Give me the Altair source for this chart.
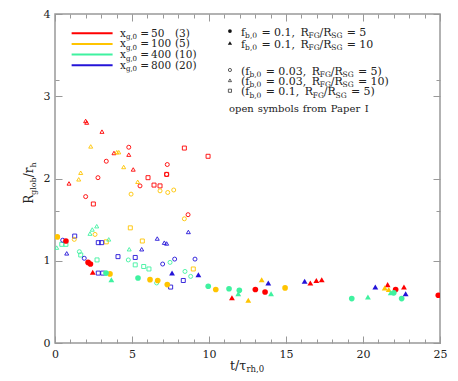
import altair as alt
import pandas as pd

RED, ORANGE, GREEN, BLUE = "#ff0000", "#ffc400", "#3ff2a0", "#2414d8"

# ---------------- data ----------------
# filled circles: f_b,0 = 0.1, R_FG/R_SG = 5
fc_red_x = [0.71, 2.15, 2.30, 13.01, 13.64, 22.12, 24.89]
fc_red_y = [1.24, 0.98, 0.96, 0.65, 0.62, 0.65, 0.58]
fc_orange_x = [0.15, 3.57, 6.17, 6.67, 7.29, 10.44, 14.94]
fc_orange_y = [1.29, 0.84, 0.77, 0.76, 0.71, 0.65, 0.67]
fc_green_x = [3.31, 5.39, 9.95, 11.30, 11.97, 19.27, 22.00, 22.51]
fc_green_y = [0.85, 0.79, 0.69, 0.66, 0.64, 0.54, 0.61, 0.54]
# filled triangles: f_b,0 = 0.1, R_FG/R_SG = 10
ft_red_x = [2.45, 11.49, 16.58, 16.97, 17.32, 21.60, 22.66]
ft_red_y = [0.86, 0.55, 0.73, 0.76, 0.77, 0.71, 0.68]
ft_orange_x = [12.55, 13.42, 21.41, 21.67]
ft_orange_y = [0.52, 0.77, 0.67, 0.65]
ft_green_x = [3.66, 11.90, 14.03, 20.32, 21.80]
ft_green_y = [0.77, 0.60, 0.60, 0.56, 0.61]
ft_blue_x = [7.60, 9.31, 13.85, 16.21, 20.80, 22.77]
ft_blue_y = [0.85, 0.83, 0.73, 0.75, 0.68, 0.60]
# open circles: f_b,0 = 0.03, R_FG/R_SG = 5 (Paper I)
oc_red_x = [4.79, 3.33, 7.29, 7.25, 2.79, 5.52, 1.99, 8.64]
oc_red_y = [2.38, 2.21, 2.17, 2.05, 2.01, 1.91, 1.78, 1.56]
oc_orange_x = [7.71, 7.32, 6.82, 4.94, 8.40, 2.60, 1.25]
oc_orange_y = [1.86, 1.83, 1.85, 1.81, 1.51, 1.32, 1.26]
oc_green_x = [1.58, 4.76, 6.60, 7.47, 8.44, 8.81]
oc_green_y = [1.11, 1.01, 0.73, 0.98, 0.87, 0.81]
oc_blue_x = [0.50, 1.90, 6.99, 7.77, 9.09]
oc_blue_y = [1.25, 1.03, 0.96, 1.02, 1.02]
# open triangles: f_b,0 = 0.03, R_FG/R_SG = 10 (Paper I)
ot_red_x = [1.99, 2.06, 3.05, 4.79, 3.83, 5.08, 0.91]
ot_red_y = [2.70, 2.68, 2.57, 2.29, 2.31, 2.11, 1.94]
ot_orange_x = [2.32, 4.01, 4.14, 4.46, 1.67, 1.54, 5.37]
ot_orange_y = [2.39, 2.32, 2.32, 2.14, 2.07, 1.99, 1.96]
ot_green_x = [2.71, 2.42, 2.27, 3.49, 4.82, 0.11]
ot_green_y = [1.42, 1.38, 1.33, 1.26, 1.14, 1.16]
ot_blue_x = [6.64, 7.10, 7.25, 8.66, 5.63, 0.76]
ot_blue_y = [1.27, 1.22, 1.21, 1.35, 1.14, 1.09]
# open squares: f_b,0 = 0.1, R_FG/R_SG = 5 (Paper I)
os_red_x = [8.40, 9.94, 6.04, 6.43, 6.82, 2.49, 7.25]
os_red_y = [2.37, 2.27, 2.01, 1.92, 1.91, 1.69, 2.05]
os_orange_x = [4.89, 5.67, 3.33, 8.98]
os_orange_y = [1.40, 1.24, 1.23, 0.90]
os_green_x = [0.44, 0.71, 1.67, 2.73, 5.21, 5.76, 6.10]
os_green_y = [1.20, 1.20, 1.07, 1.01, 0.95, 0.93, 0.90]
os_blue_x = [1.28, 2.81, 3.03, 2.81, 3.10, 4.09, 5.21, 7.51, 8.33]
os_blue_y = [1.30, 1.22, 1.22, 0.85, 0.85, 1.05, 1.04, 0.68, 0.76]

# legend texts
leg_colors = [RED, ORANGE, GREEN, BLUE]
leg_xg = ["50", "100", "400", "800"]
leg_n = ["(3)", "(5)", "(10)", "(20)"]
x_major = [0, 5, 10, 15, 20, 25]
x_minor = list(range(0, 26))
y_major = [0, 1, 2, 3, 4]
y_minor = [round(i * 0.1, 1) for i in range(41)]

# ---------------- layout helpers ----------------
W, H = 385, 329
XMAX, YMAX = 25, 4
PXX, PXY = W / XMAX, H / YMAX
FONT = "DejaVu Serif"

CW = {' ': .318, '=': .838, '(': .390, ')': .390,
      ',': .318, '.': .318, '/': .337, 'x': .564, 'f': .372, 'R': .734, 'F': .683,
      'G': .776, 'S': .685, 'b': .640, 'g': .640, 'h': .644, 'l': .320, 'o': .602,
      'r': .478, 't': .402, '\u03c4': .57, 'p': .640, 'e': .592, 'n': .644,
      's': .514, 'y': .565, 'm': .948, 'a': .596, 'P': .683, 'I': .372}
for d in "0123456789":
    CW[d] = .636


def tw(s, fs):
    return sum(CW.get(c, .6) for c in s) * fs


def place(parts, x0, y0, fn, fsub, sub_dy, rotate=False, center=False):
    """parts: (text, 'n'|'s'|'gap'); gap entries are advances in em of the normal size."""
    def adv(t, k):
        if k == 'gap':
            return float(t) * fn
        return tw(t, fn if k == 'n' else fsub)
    total = sum(adv(t, k) for t, k in parts)
    off = -total / 2 if center else 0.0
    out = []
    for txt, kind in parts:
        if kind != 'gap':
            fs = fn if kind == 'n' else fsub
            dy = 0 if kind == 'n' else sub_dy
            if rotate:
                out.append({"x": x0 + dy / PXX, "y": y0 + off / PXY, "t": txt, "fs": fs})
            else:
                out.append({"x": x0 + off / PXX, "y": y0 - dy / PXY, "t": txt, "fs": fs})
        off += adv(txt, kind)
    return out


# ---------------- data frame for points ----------------
rows = []


def add(kind, color, xs_, ys_, shape, size):
    for a, b in zip(xs_, ys_):
        rows.append({"x": a, "y": b, "kind": kind, "c": color, "shape": shape, "s": size})


for col, xs_, ys_ in [(RED, os_red_x, os_red_y), (ORANGE, os_orange_x, os_orange_y),
                      (GREEN, os_green_x, os_green_y), (BLUE, os_blue_x, os_blue_y)]:
    add("open", col, xs_, ys_, "square", 16)
for col, xs_, ys_ in [(RED, oc_red_x, oc_red_y), (ORANGE, oc_orange_x, oc_orange_y),
                      (GREEN, oc_green_x, oc_green_y), (BLUE, oc_blue_x, oc_blue_y)]:
    add("open", col, xs_, ys_, "circle", 16)
for col, xs_, ys_ in [(RED, ot_red_x, ot_red_y), (ORANGE, ot_orange_x, ot_orange_y),
                      (GREEN, ot_green_x, ot_green_y), (BLUE, ot_blue_x, ot_blue_y)]:
    add("open", col, xs_, ys_, "triangle-up", 16)
for col, xs_, ys_ in [(RED, fc_red_x, fc_red_y), (ORANGE, fc_orange_x, fc_orange_y),
                      (GREEN, fc_green_x, fc_green_y)]:
    add("filled", col, xs_, ys_, "circle", 32)
for col, xs_, ys_ in [(RED, ft_red_x, ft_red_y), (ORANGE, ft_orange_x, ft_orange_y),
                      (GREEN, ft_green_x, ft_green_y), (BLUE, ft_blue_x, ft_blue_y)]:
    add("filled", col, xs_, ys_, "triangle-up", 34)

pts = pd.DataFrame(rows)
open_pts = pts[pts.kind == "open"]
filled_pts = pts[pts.kind == "filled"]

xs = alt.Scale(domain=[0, XMAX], nice=False, zero=False)
ys = alt.Scale(domain=[0, YMAX], nice=False, zero=False)


def enc(chart, xaxis=None, yaxis=None):
    return chart.encode(
        x=alt.X("x:Q", scale=xs, axis=xaxis),
        y=alt.Y("y:Q", scale=ys, axis=yaxis),
    )


open_layer = enc(alt.Chart(open_pts).mark_point(filled=False, strokeWidth=0.9, opacity=1, clip=True)).encode(
    color=alt.Color("c:N", scale=None),
    shape=alt.Shape("shape:N", scale=None),
    size=alt.Size("s:Q", scale=None),
)
filled_layer = enc(alt.Chart(filled_pts).mark_point(filled=True, opacity=1, clip=True)).encode(
    color=alt.Color("c:N", scale=None),
    shape=alt.Shape("shape:N", scale=None),
    size=alt.Size("s:Q", scale=None),
)

# ---------------- legend (annotation) ----------------
line_y = [3.765, 3.636, 3.507, 3.378]
leg_lines = pd.DataFrame({"x": [1.08] * 4, "x2": [3.74] * 4, "y": line_y, "c": leg_colors})
lines_layer = alt.Chart(leg_lines).mark_rule(strokeWidth=2).encode(
    x=alt.X("x:Q", scale=xs, axis=None), x2="x2:Q",
    y=alt.Y("y:Q", scale=ys, axis=None),
    color=alt.Color("c:N", scale=None),
)

SD = 2.5
texts = []
for ly, lab, nn in zip(line_y, leg_xg, leg_n):
    texts += place([("x", 'n'), ("g,0", 's'), (0.30, 'gap'), ("=", 'n'), (0.20, 'gap'), (lab, 'n')],
                   4.22, ly - 3.5 / PXY, 10.5, 7.0, SD)
    texts += place([(nn, 'n')], 4.22 + 55 / PXX, ly - 3.5 / PXY, 10.5, 7.0, SD)

sym_y = [3.793, 3.647, 3.319, 3.194, 3.067]
right_rows = [
    ("f", "0.1,", "5"),
    ("f", "0.1,", "10"),
    ("(f", "0.03,", "5)"),
    ("(f", "0.03,", "10)"),
    ("(f", "0.1,", "5)"),
]
for sy, (a, b, c) in zip(sym_y, right_rows):
    texts += place([(a, 'n'), ("b,0", 's'), (0.4, 'gap'), ("=", 'n'), (0.3, 'gap'), (b, 'n'),
                    (0.5, 'gap'), ("R", 'n'), ("FG", 's'), ("/R", 'n'), ("SG", 's'),
                    (0.4, 'gap'), ("=", 'n'), (0.3, 'gap'), (c, 'n')],
                   12.08, sy - 4.7 / PXY, 11, 7.5, SD)
open_words = "open symbols from Paper I".split(" ")
parts = []
for i, wd in enumerate(open_words):
    if i:
        parts.append((0.4, 'gap'))
    parts.append((wd, 'n'))
texts += place(parts, 11.30, 2.808, 10, 7, SD)

# x-axis title
texts += place([("t/\u03c4", 'n'), ("rh,0", 's')], 12.47, -0.325, 12.5, 8.5, 2.5, center=True)
texts_df = pd.DataFrame(texts)

ytitle_df = pd.DataFrame(place([("R", 'n'), ("glob", 's'), ("/r", 'n'), ("h", 's')],
                               -1.40, 1.945, 12, 8, 3, rotate=True, center=True))

text_layer = enc(alt.Chart(texts_df).mark_text(
    align="left", baseline="alphabetic", font=FONT, color="#222")).encode(
    text="t:N", size=alt.Size("fs:Q", scale=None))
ytitle_layer = enc(alt.Chart(ytitle_df).mark_text(
    align="left", baseline="alphabetic", font=FONT, color="#222", angle=270)).encode(
    text="t:N", size=alt.Size("fs:Q", scale=None))

leg_sym = pd.DataFrame({
    "x": [11.36] * 5, "y": sym_y,
    "shape": ["circle", "triangle-up", "circle", "triangle-up", "square"],
    "s": [14, 18, 10, 10, 10],
})
leg_filled = enc(alt.Chart(leg_sym.iloc[:2]).mark_point(filled=True, opacity=1, color="#111")).encode(
    shape=alt.Shape("shape:N", scale=None), size=alt.Size("s:Q", scale=None))
leg_open = enc(alt.Chart(leg_sym.iloc[2:]).mark_point(filled=False, opacity=1, color="#333", strokeWidth=0.8)).encode(
    shape=alt.Shape("shape:N", scale=None), size=alt.Size("s:Q", scale=None))

# ---------------- axes (ticks inside, on all four sides) ----------------
ax_common = dict(title=None, domain=False, grid=False, tickColor="#999", tickWidth=1, labelFlush=False)
axis_layers = []
for xo, yo, size, show in [("bottom", "left", 7, True), ("bottom", "left", 4, False),
                            ("top", "right", 7, False), ("top", "right", 4, False)]:
    xv = x_major if size == 7 else x_minor
    yv = y_major if size == 7 else y_minor
    xa = alt.Axis(orient=xo, values=xv, tickSize=size, offset=-size, labels=show,
                  labelPadding=5, format="d", **ax_common)
    ya = alt.Axis(orient=yo, values=yv, tickSize=size, offset=-size, labels=show,
                  labelPadding=5, format="d", **ax_common)
    axis_layers.append(enc(alt.Chart(leg_lines).mark_point(opacity=0), xa, ya))

chart = alt.layer(*axis_layers, open_layer, filled_layer, lines_layer, leg_filled, leg_open,
                  text_layer, ytitle_layer).resolve_axis(
    x="independent", y="independent"
).properties(
    width=W, height=H,
    autosize=alt.AutoSizeParams(type="none"),
    padding={"left": 47, "top": 6, "right": 10, "bottom": 30},
).configure_view(
    stroke="#999", strokeWidth=1.5
).configure_axis(
    labelFont=FONT, labelFontSize=11, labelColor="#222"
)

chart.save("out.html", embed_options={"renderer": "svg", "actions": False})
